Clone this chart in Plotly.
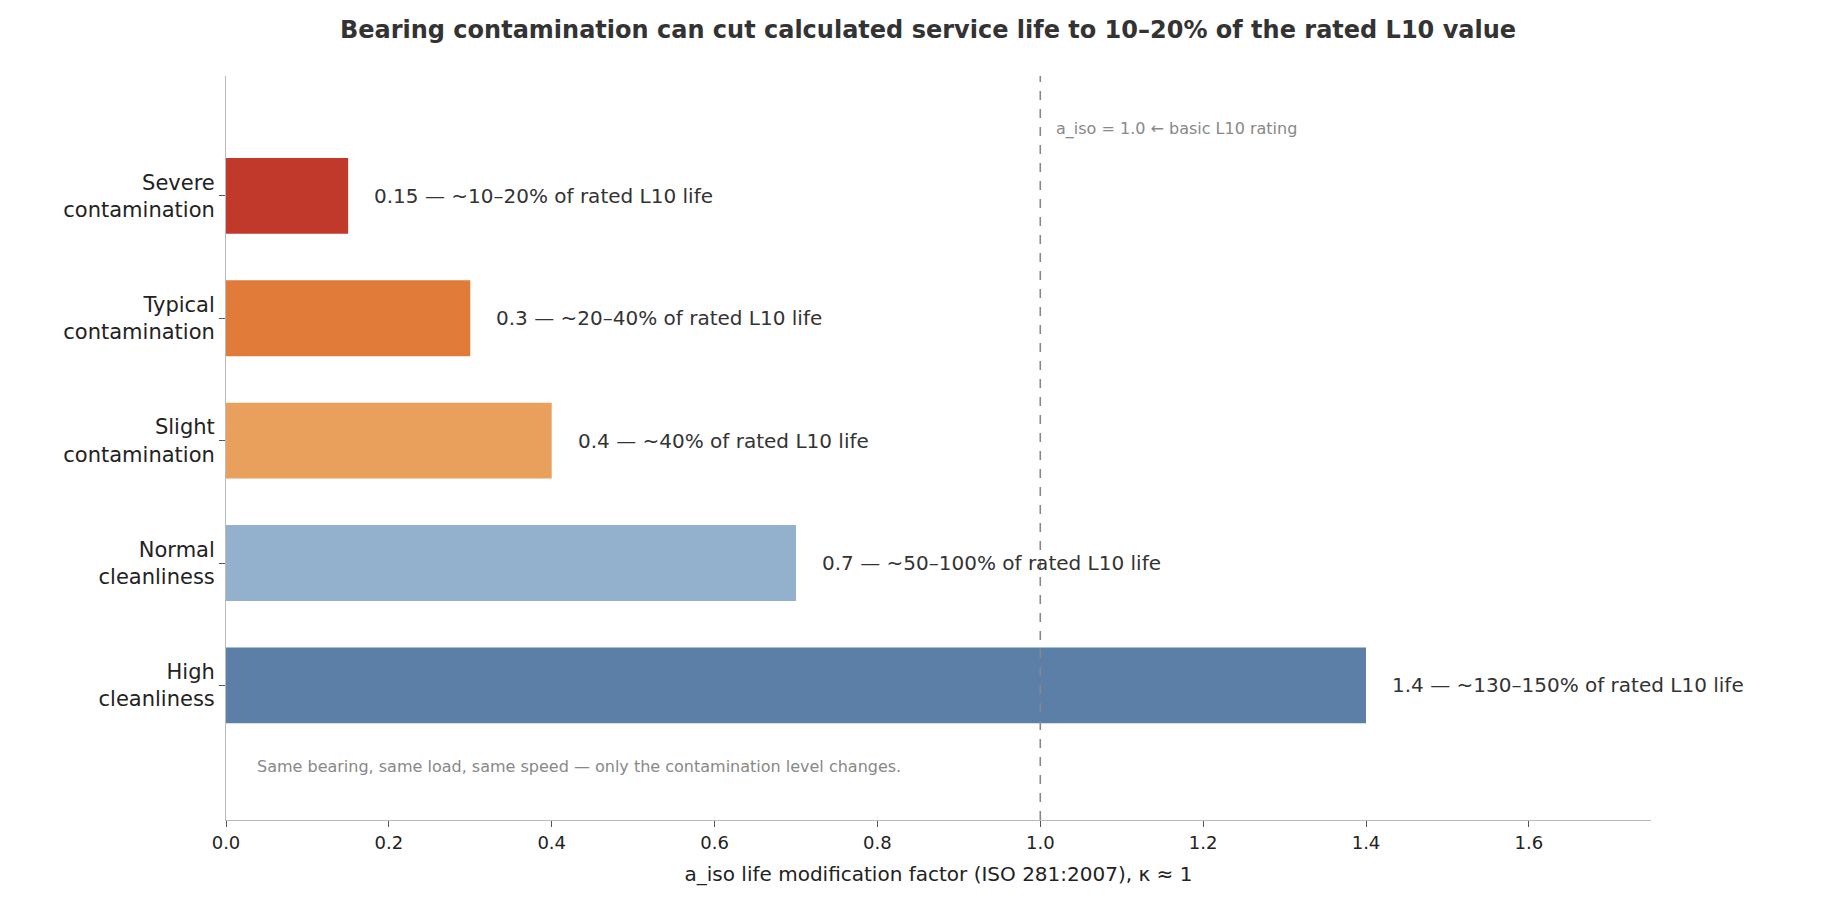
import plotly.graph_objects as go

categories = ["High<br>cleanliness", "Normal<br>cleanliness", "Slight<br>contamination",
              "Typical<br>contamination", "Severe<br>contamination"]
values = [1.4, 0.7, 0.4, 0.3, 0.15]
labels = ["~130–150% of rated L10 life", "~50–100% of rated L10 life", "~40% of rated L10 life",
          "~20–40% of rated L10 life", "~10–20% of rated L10 life"]
colors = ["#5b7fa6", "#93b1cc", "#e8a05c", "#e07b39", "#c0392b"]
x_ticks = [0.0, 0.2, 0.4, 0.6, 0.8, 1.0, 1.2, 1.4, 1.6]

FONT = "DejaVu Sans"
fig = go.Figure()
fig.add_trace(go.Bar(y=list(range(len(categories))), x=values, orientation="h",
                     marker=dict(color=colors, line=dict(width=0)), width=0.62))
for i, (v, t) in enumerate(zip(values, labels)):
    fig.add_annotation(x=v, y=i, text=f"{v} — {t}", showarrow=False, xanchor="left",
                       xshift=24, font=dict(family=FONT, size=20, color="#333333"))
fig.add_vline(x=1.0, line=dict(color="#888888", width=1.6, dash="dash"))
fig.add_annotation(x=1.0, y=4.55, text="a_iso = 1.0 ← basic L10 rating", showarrow=False,
                   xanchor="left", xshift=14, font=dict(family=FONT, size=16, color="#888888"))
fig.add_annotation(x=0.035, y=-0.66, text="Same bearing, same load, same speed — only the contamination level changes.",
                   showarrow=False, xanchor="left", font=dict(family=FONT, size=16, color="#888888"))
fig.update_layout(
    width=1840, height=906, plot_bgcolor="white", paper_bgcolor="white",
    margin=dict(l=218, r=197, t=68, b=94), showlegend=False,
    title=dict(text="<b>Bearing contamination can cut calculated service life to 10–20% of the rated L10 value</b>",
               x=0.5, xanchor="center", y=0.985, yanchor="top",
               font=dict(family=FONT, size=24, color="#333333")),
    font=dict(family=FONT, size=20, color="#222222"),
)
fig.update_xaxes(range=[0, 1.75], tickvals=x_ticks, ticktext=[f"{t:.1f}" for t in x_ticks],
                 showgrid=False, zeroline=False, showline=True, linecolor="#bbbbbb",
                 ticks="outside", ticklen=6, tickcolor="#555555", tickfont=dict(size=18),
                 title=dict(text="a_iso life modification factor (ISO 281:2007), κ ≈ 1", font=dict(size=20)))
fig.update_yaxes(range=[-1.1, 4.98], tickvals=list(range(len(categories))), ticktext=categories,
                 showgrid=False, zeroline=False, showline=True, linecolor="#bbbbbb",
                 ticks="outside", ticklen=6, tickcolor="#555555", tickfont=dict(size=21))
fig.write_html("out.html")
